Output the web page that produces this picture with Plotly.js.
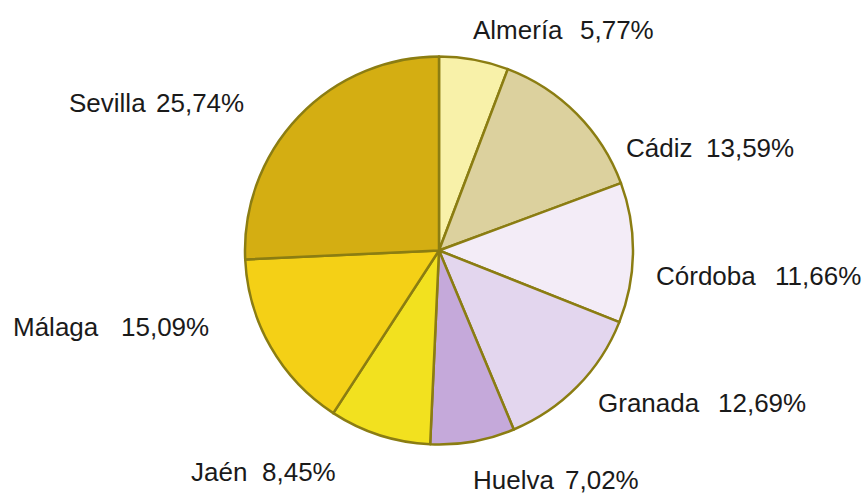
<!DOCTYPE html>
<html>
<head>
<meta charset="utf-8">
<script src="https://cdn.plot.ly/plotly-3.0.1.min.js"></script>
<style>html,body{margin:0;padding:0;background:#fff;}#chart{width:866px;height:494px;}</style>
</head>
<body>
<div id="chart"></div>
<script>
// Data
const provinces = ["Almería", "Cádiz", "Córdoba", "Granada", "Huelva", "Jaén", "Málaga", "Sevilla"];
const shares = [5.77, 13.59, 11.66, 12.69, 7.02, 8.45, 15.09, 25.74];

// Styles
const sliceColors = ["#f8f1a9", "#dcd19e", "#f3ecf7", "#e3d6ee", "#c5a9da", "#f2e11f", "#f4d016", "#d4ae12"];
const W = 866, H = 494;
// Label placement (pixels): left edge of name, right edge of value, vertical centre
const labelPlacement = [
  [472, 655, 30], [625, 795, 148], [655, 862, 276], [597, 807, 403],
  [472, 640, 480], [190, 337, 472], [12, 210, 327], [68, 245, 103]
];
const labelFont = { family: "Liberation Sans, Arial, sans-serif", size: 26, color: "#1a1a1a" };

const fmt = v => v.toFixed(2).replace(".", ",") + "%";

const annotations = [];
provinces.forEach((p, i) => {
  const [xl, xr, yc] = labelPlacement[i];
  annotations.push({ xref: "paper", yref: "paper", x: xl / W, y: 1 - yc / H, xanchor: "left", yanchor: "middle",
    text: p, showarrow: false, font: labelFont, borderpad: 0 });
  annotations.push({ xref: "paper", yref: "paper", x: xr / W, y: 1 - yc / H, xanchor: "right", yanchor: "middle",
    text: fmt(shares[i]), showarrow: false, font: labelFont, borderpad: 0 });
});

const trace = {
  type: "pie",
  labels: provinces,
  values: shares,
  sort: false,
  direction: "clockwise",
  rotation: 0,
  marker: { colors: sliceColors, line: { color: "#8b7d12", width: 2.5 } },
  textinfo: "none",
  hoverinfo: "none",
  domain: { x: [245 / W, 633 / W], y: [(H - 445) / H, (H - 56) / H] },
  showlegend: false
};

const layout = {
  width: W,
  height: H,
  margin: { l: 0, r: 0, t: 0, b: 0 },
  paper_bgcolor: "#ffffff",
  showlegend: false,
  annotations: annotations
};

Plotly.newPlot("chart", [trace], layout, { displayModeBar: false, staticPlot: true });
</script>
</body>
</html>
